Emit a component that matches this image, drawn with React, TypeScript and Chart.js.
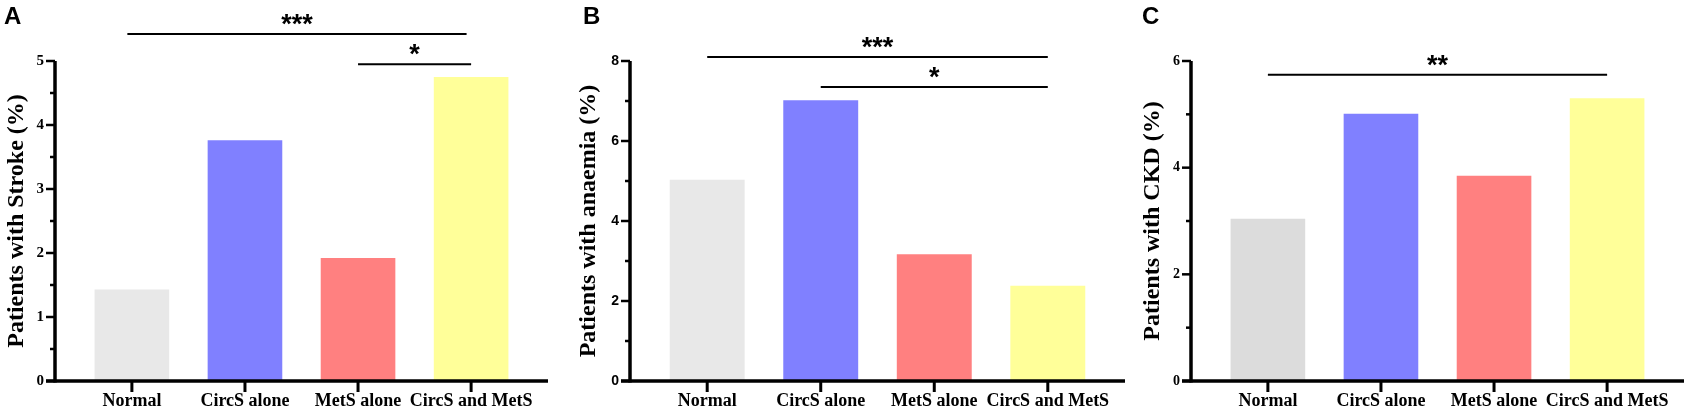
import React, { useEffect, useRef } from 'react';
import { Chart, registerables } from 'chart.js';

Chart.register(...registerables);

const categories = ['Normal', 'CircS alone', 'MetS alone', 'CircS and MetS'];

const strokeValues = [1.43, 3.76, 1.92, 4.75];
const anaemiaValues = [5.03, 7.02, 3.17, 2.38];
const ckdValues = [3.04, 5.01, 3.85, 5.3];

const strokeTicks = [0, 1, 2, 3, 4, 5];
const anaemiaTicks = [0, 2, 4, 6, 8];
const ckdTicks = [0, 2, 4, 6];

const strokeMinor = [0.5, 1.5, 2.5, 3.5, 4.5];
const anaemiaMinor = [1, 3, 5, 7];
const ckdMinor = [1, 3, 5];

// significance bars: [from category, to category, height in axis units, stars]
const strokeSig = [[-0.04, 2.96, 5.42, '***'], [2, 3, 4.95, '*']];
const anaemiaSig = [[0, 3, 8.1, '***'], [1, 3, 7.35, '*']];
const ckdSig = [[0, 3, 5.74, '**']];

const barColors = ['#e8e8e8', '#8080ff', '#ff8080', '#ffff99'];
const ckdColors = ['#dcdcdc', '#8080ff', '#ff8080', '#ffff99'];

const SERIF = '"Liberation Serif", "Times New Roman", serif';
const SANS = '"Liberation Sans", Arial, sans-serif';

const panels = [
    {
        letter: 'A', title: 'Patients with Stroke (%)', values: strokeValues, ticks: strokeTicks,
        minor: strokeMinor, sig: strokeSig, colors: barColors, tickFont: SERIF, tickSize: 15,
        left: 0, width: 560, yWidth: 55, padRight: 12, titlePad: 2, letterX: 4,
    },
    {
        letter: 'B', title: 'Patients with anaemia (%)', values: anaemiaValues, ticks: anaemiaTicks,
        minor: anaemiaMinor, sig: anaemiaSig, colors: barColors, tickFont: SANS, tickSize: 14,
        left: 560, width: 570, yWidth: 70, padRight: 5, titlePad: 14, letterX: 23,
    },
    {
        letter: 'C', title: 'Patients with CKD (%)', values: ckdValues, ticks: ckdTicks,
        minor: ckdMinor, sig: ckdSig, colors: ckdColors, tickFont: SERIF, tickSize: 14,
        left: 1130, width: 557, yWidth: 61, padRight: 3, titlePad: 8, letterX: 12,
    },
];

const line = (ctx, x1, y1, x2, y2, w) => {
    ctx.lineWidth = w;
    ctx.beginPath();
    ctx.moveTo(x1, y1);
    ctx.lineTo(x2, y2);
    ctx.stroke();
};

const Panel = ({ p }) => {
    const canvasRef = useRef(null);

    useEffect(() => {
        if (!canvasRef.current) return;

        // axes, ticks, significance bars and panel letter, drawn by hand
        const decor = {
            id: 'decor',
            afterDraw(chart) {
                const { ctx, chartArea, scales } = chart;
                const { left, right, top, bottom } = chartArea;
                const xs = scales.x;
                const ys = scales.y;
                ctx.save();
                ctx.strokeStyle = '#000';
                ctx.fillStyle = '#000';

                line(ctx, left, top, left, bottom + 1.5, 3.5);
                line(ctx, left - 9, bottom, right, bottom, 3.5);

                p.ticks.forEach((v) => {
                    const py = ys.getPixelForValue(v);
                    line(ctx, left - 9, py, left, py, 2.5);
                });
                p.minor.forEach((v) => {
                    const py = ys.getPixelForValue(v);
                    line(ctx, left - 5, py, left, py, 2.5);
                });
                categories.forEach((_, i) => {
                    const px = xs.getPixelForValue(i);
                    line(ctx, px, bottom, px, bottom + 11, 3);
                });

                ctx.font = `bold 27px ${SANS}`;
                ctx.textAlign = 'center';
                ctx.textBaseline = 'alphabetic';
                p.sig.forEach(([from, to, level, stars]) => {
                    const x1 = xs.getPixelForValue(from);
                    const x2 = xs.getPixelForValue(to);
                    const py = ys.getPixelForValue(level);
                    line(ctx, x1, py, x2, py, 2);
                    ctx.fillText(stars, (x1 + x2) / 2, py - 1);
                });

                ctx.font = `bold 24px ${SANS}`;
                ctx.textAlign = 'left';
                ctx.fillText(p.letter, p.letterX, 24);
                ctx.restore();
            },
        };

        const chart = new Chart(canvasRef.current, {
            type: 'bar',
            data: {
                datasets: [{
                    data: p.values.map((v, i) => ({ x: i, y: v })),
                    backgroundColor: p.colors,
                    borderWidth: 0,
                    barPercentage: 0.66,
                    categoryPercentage: 1,
                }],
            },
            options: {
                animation: false,
                responsive: true,
                maintainAspectRatio: false,
                layout: { padding: { left: 0, right: p.padRight, top: 61, bottom: 0 } },
                scales: {
                    x: {
                        type: 'linear',
                        min: -0.68,
                        max: 3.68,
                        offset: false,
                        afterBuildTicks: (s) => { s.ticks = categories.map((_, i) => ({ value: i })); },
                        afterFit: (s) => { s.height = 33; },
                        grid: {
                            drawOnChartArea: false, drawTicks: true, offset: false,
                            tickLength: 10, tickColor: 'rgba(0,0,0,0)',
                        },
                        border: { display: false },
                        ticks: {
                            callback: (v) => categories[v],
                            color: '#000',
                            padding: 0,
                            maxRotation: 0,
                            autoSkip: false,
                            font: { family: SERIF, weight: 'bold', size: 18 },
                        },
                    },
                    y: {
                        min: 0,
                        max: p.ticks[p.ticks.length - 1],
                        afterBuildTicks: (s) => { s.ticks = p.ticks.map((v) => ({ value: v })); },
                        afterFit: (s) => { s.width = p.yWidth; },
                        grid: { drawOnChartArea: false, tickLength: 8, tickColor: 'rgba(0,0,0,0)' },
                        border: { display: false },
                        ticks: {
                            color: '#000',
                            padding: 3,
                            font: { family: p.tickFont, weight: 'bold', size: p.tickSize },
                        },
                        title: {
                            display: true,
                            text: p.title,
                            color: '#000',
                            padding: { top: p.titlePad, bottom: 0 },
                            font: { family: SERIF, weight: 'bold', size: 24 },
                        },
                    },
                },
                plugins: {
                    legend: { display: false },
                    tooltip: { enabled: false },
                },
            },
            plugins: [decor],
        });

        return () => chart.destroy();
    }, [p]);

    return (
        <div style={{ position: 'absolute', left: p.left, top: 0, width: p.width, height: 414 }}>
            <canvas ref={canvasRef} />
        </div>
    );
};

export default function App() {
    return (
        <div style={{ position: 'absolute', left: 0, top: 0, width: 1687, height: 414, background: '#fff' }}>
            {panels.map((p) => <Panel key={p.letter} p={p} />)}
        </div>
    );
}
